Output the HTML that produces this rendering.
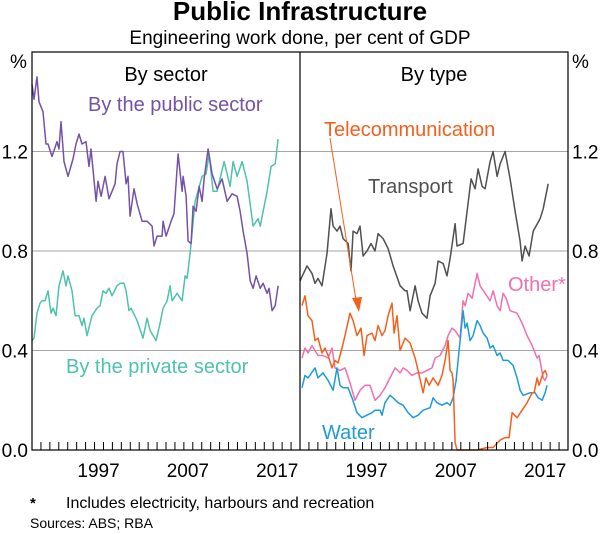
<!DOCTYPE html>
<html><head><meta charset="utf-8">
<style>
html,body{margin:0;padding:0;background:#fff;}
svg{display:block;font-family:"Liberation Sans",Arial,sans-serif;}
</style></head>
<body>
<svg id="chart" width="600" height="534" viewBox="0 0 600 534">
<text x="300" y="20" text-anchor="middle" font-size="26" font-weight="bold">Public Infrastructure</text>
<text x="300" y="44" text-anchor="middle" font-size="19">Engineering work done, per cent of GDP</text>
<g id="grid"></g>
<g id="series"></g>
<rect x="32" y="52" width="536" height="398" fill="none" stroke="#000" stroke-width="1.2"/>
<line x1="300" y1="52" x2="300" y2="450" stroke="#000" stroke-width="1.2"/>
<g id="axes"></g>
<text x="10" y="68" font-size="19">%</text>
<text x="572" y="68" font-size="19">%</text>
<text x="166" y="81" text-anchor="middle" font-size="20">By sector</text>
<text x="434" y="81" text-anchor="middle" font-size="20">By type</text>
<text x="88" y="111" font-size="20" fill="#7452a8">By the public sector</text>
<text x="66" y="373" font-size="20" fill="#4ec2ae">By the private sector</text>
<text x="324" y="136" font-size="20" fill="#f4601c">Telecommunication</text>
<text x="368" y="193" font-size="20" fill="#505050">Transport</text>
<text x="508" y="291" font-size="20" fill="#f070b0">Other*</text>
<text x="322" y="439" font-size="20" fill="#1e9bd7">Water</text>
<g>
<line x1="330" y1="138" x2="356" y2="300" stroke="#f4601c" stroke-width="1"/>
<polygon points="352,298 362,297 359,312" fill="#f4601c"/>
</g>
<text x="30" y="508" font-size="15" font-weight="bold">*</text>
<text x="66" y="508" font-size="16">Includes electricity, harbours and recreation</text>
<text x="30" y="528" font-size="14">Sources: ABS; RBA</text>
</svg>
<script>
const yTicks = [0.0, 0.4, 0.8, 1.2];
const yTickLabels = ["0.0", "0.4", "0.8", "1.2"];
const xTickLabels = ["1997", "2007", "2017"];
const xTickYears = [1997, 2007, 2017];

const publicDates = [1990.00,1990.22,1990.56,1990.78,1991.23,1991.57,1991.79,1992.24,1992.80,1993.02,1993.25,1993.58,1994.03,1994.59,1994.93,1995.26,1995.60,1996.05,1996.38,1996.61,1997.17,1997.39,1997.73,1998.18,1998.62,1999.30,1999.52,1999.86,2000.19,2000.53,2000.75,2000.98,2001.42,2001.76,2002.32,2002.88,2003.44,2003.66,2004.00,2004.56,2004.67,2005.01,2005.57,2005.90,2006.35,2006.80,2006.91,2007.25,2007.47,2007.81,2008.03,2008.37,2008.70,2009.04,2009.26,2009.71,2010.16,2010.72,2011.28,2011.84,2012.40,2012.96,2013.30,2013.63,2014.08,2014.42,2014.75,2015.09,2015.54,2015.87,2016.32,2016.54,2016.88,2017.22,2017.55];
const publicValues = [1.47,1.41,1.50,1.40,1.36,1.23,1.23,1.18,1.24,1.21,1.32,1.16,1.10,1.17,1.23,1.27,1.23,1.24,1.14,1.21,1.00,1.08,1.02,1.10,1.01,1.07,1.15,1.20,1.20,1.07,1.10,0.94,1.05,0.99,0.92,0.92,0.90,0.82,0.86,0.86,0.92,0.86,0.92,0.95,1.19,1.04,1.10,1.02,0.84,0.83,0.98,0.96,1.06,1.00,1.09,1.21,1.11,1.05,1.09,1.00,1.03,1.02,0.96,0.88,0.79,0.68,0.65,0.70,0.65,0.67,0.63,0.65,0.56,0.58,0.66];

const privateDates = [1990.00,1990.22,1990.56,1990.90,1991.12,1991.46,1991.79,1992.13,1992.35,1992.69,1993.02,1993.47,1993.81,1994.03,1994.48,1994.82,1995.26,1995.60,1995.82,1996.16,1996.72,1997.28,1997.62,1997.95,1998.29,1998.62,1998.96,1999.52,1999.86,2000.30,2000.53,2000.86,2001.09,2001.76,2002.43,2002.88,2003.22,2003.89,2004.34,2004.67,2005.12,2005.46,2005.68,2006.24,2006.80,2007.14,2007.36,2007.70,2008.26,2009.04,2009.49,2009.82,2010.27,2010.72,2011.50,2012.18,2012.51,2012.96,2013.52,2014.08,2014.75,2015.31,2015.54,2016.32,2016.77,2017.22,2017.55];
const privateValues = [0.44,0.45,0.55,0.59,0.60,0.60,0.64,0.55,0.57,0.54,0.66,0.72,0.66,0.70,0.64,0.54,0.54,0.50,0.53,0.46,0.54,0.57,0.58,0.64,0.63,0.65,0.62,0.66,0.67,0.67,0.64,0.56,0.57,0.52,0.45,0.53,0.48,0.44,0.51,0.57,0.60,0.66,0.60,0.63,0.60,0.70,0.69,0.79,1.00,1.10,1.11,1.19,1.04,1.04,1.16,1.06,1.16,1.10,1.16,1.08,0.90,0.93,0.90,1.04,1.14,1.15,1.25];

const transportDates = [1990.00,1990.78,1991.34,1991.68,1992.02,1992.46,1993.02,1993.47,1993.70,1994.14,1994.48,1994.82,1995.38,1995.71,1995.94,1996.38,1996.72,1997.06,1997.50,1997.95,1998.40,1998.74,1999.30,1999.86,2000.42,2001.20,2001.76,2001.98,2002.32,2002.88,2003.22,2003.66,2004.22,2004.56,2005.12,2005.46,2006.02,2006.46,2006.80,2007.36,2007.58,2008.26,2008.70,2009.15,2009.60,2009.94,2010.38,2010.72,2011.28,2011.62,2012.06,2012.40,2012.96,2013.52,2014.08,2014.64,2014.86,2015.20,2015.65,2016.10,2016.88,2017.22,2017.78];
const transportValues = [0.68,0.74,0.71,0.67,0.69,0.66,0.79,0.97,0.90,0.88,0.90,0.85,0.83,0.72,0.88,0.87,0.90,0.78,0.80,0.83,0.80,0.87,0.85,0.81,0.74,0.66,0.64,0.64,0.56,0.66,0.60,0.55,0.53,0.62,0.67,0.76,0.75,0.70,0.77,0.91,0.82,0.83,0.96,1.09,1.05,1.13,1.06,1.05,1.16,1.20,1.10,1.15,1.20,1.09,0.96,0.84,0.76,0.82,0.78,0.88,0.93,0.97,1.07];

const telecomDates = [1990.22,1990.56,1990.90,1991.34,1991.68,1992.02,1992.46,1992.80,1993.14,1993.58,1993.92,1994.26,1994.70,1995.04,1995.60,1995.94,1996.38,1996.83,1997.17,1997.50,1998.06,1998.40,1998.74,1999.18,1999.52,1999.86,2000.30,2000.53,2000.86,2001.20,2001.76,2002.32,2002.88,2003.22,2003.78,2004.11,2004.45,2004.90,2005.46,2005.90,2006.24,2006.58,2006.80,2007.02,2007.14,2007.36,2007.58,2009.82,2010.94,2011.62,2012.40,2012.96,2013.41,2013.74,2014.30,2014.86,2015.42,2015.98,2016.21,2016.54,2016.77,2017.22,2017.44,2017.66];
const telecomValues = [0.58,0.62,0.54,0.52,0.44,0.45,0.39,0.41,0.38,0.33,0.36,0.35,0.41,0.46,0.55,0.52,0.46,0.49,0.38,0.46,0.47,0.44,0.50,0.46,0.48,0.54,0.59,0.47,0.54,0.40,0.45,0.43,0.37,0.32,0.23,0.29,0.26,0.29,0.26,0.30,0.36,0.44,0.32,0.31,0.28,0.03,0.00,0.00,0.01,0.01,0.04,0.05,0.05,0.15,0.13,0.16,0.19,0.23,0.23,0.29,0.26,0.31,0.32,0.30];

const otherDates = [1990.22,1990.56,1990.90,1991.34,1991.68,1992.02,1992.58,1993.14,1993.58,1993.92,1994.48,1995.04,1995.60,1996.16,1996.72,1997.28,1997.84,1998.40,1998.96,1999.52,2000.08,2000.64,2001.20,2001.54,2001.98,2002.54,2003.10,2003.66,2004.22,2004.78,2005.12,2005.68,2006.24,2006.58,2007.02,2007.36,2007.92,2008.26,2008.48,2008.82,2009.26,2009.60,2009.82,2010.16,2010.72,2011.28,2011.62,2012.06,2012.40,2012.74,2013.07,2013.52,2014.30,2014.86,2015.42,2015.98,2016.54,2016.77,2017.22,2017.44,2017.66];
const otherValues = [0.37,0.41,0.39,0.42,0.40,0.38,0.38,0.37,0.41,0.33,0.32,0.33,0.27,0.20,0.24,0.26,0.26,0.20,0.22,0.25,0.29,0.33,0.31,0.33,0.32,0.30,0.31,0.31,0.32,0.33,0.37,0.38,0.42,0.46,0.49,0.48,0.45,0.60,0.58,0.63,0.61,0.67,0.71,0.66,0.63,0.60,0.64,0.58,0.56,0.63,0.61,0.56,0.55,0.51,0.46,0.42,0.37,0.38,0.29,0.28,0.30];

const waterDates = [1990.22,1990.56,1990.90,1991.68,1992.02,1992.58,1993.14,1993.70,1994.14,1994.48,1994.82,1995.38,1995.82,1996.38,1996.94,1997.50,1998.06,1998.40,1998.96,1999.18,1999.52,2000.08,2000.42,2000.98,2001.54,2002.10,2002.66,2003.22,2003.78,2004.56,2004.90,2005.34,2005.90,2006.46,2006.80,2007.14,2007.47,2007.92,2008.26,2008.48,2008.70,2009.04,2009.38,2009.82,2010.16,2010.50,2010.94,2011.28,2011.62,2012.06,2012.40,2012.74,2013.30,2013.86,2014.30,2014.64,2014.98,2015.76,2016.32,2016.66,2017.10,2017.44,2017.66];
const waterValues = [0.25,0.30,0.29,0.33,0.29,0.31,0.28,0.24,0.33,0.26,0.25,0.25,0.21,0.15,0.13,0.14,0.15,0.16,0.16,0.14,0.19,0.22,0.21,0.19,0.18,0.15,0.13,0.14,0.16,0.17,0.21,0.19,0.18,0.19,0.18,0.21,0.28,0.44,0.56,0.49,0.51,0.44,0.46,0.52,0.50,0.47,0.45,0.41,0.42,0.38,0.39,0.36,0.36,0.34,0.29,0.24,0.22,0.23,0.23,0.21,0.20,0.23,0.26];

const NS = "http://www.w3.org/2000/svg";
const Y0 = 450, Y1 = 52, VMAX = 1.6;
const YEAR0 = 1990, YEAR1 = 2020;
function yScale(v){ return Y0 - (v / VMAX) * (Y0 - Y1); }
function xScaleLeft(t){ return 32 + (t - YEAR0) / (YEAR1 - YEAR0) * 268; }
function xScaleRight(t){ return 300 + (t - YEAR0) / (YEAR1 - YEAR0) * 268; }
function mk(tag, attrs, parent){
  const el = document.createElementNS(NS, tag);
  for (const k in attrs) el.setAttribute(k, attrs[k]);
  parent.appendChild(el);
  return el;
}
const grid = document.getElementById('grid');
const axes = document.getElementById('axes');
const series = document.getElementById('series');

yTicks.forEach((v, i) => {
  if (v > 0) {
    const gl = mk('line', {x1:32, x2:568, y1:yScale(v), y2:yScale(v), stroke:'#a6a6a6', 'stroke-width':1}, grid);
    
    
  }
  const tl = mk('text', {x:28, y:yScale(v)+7, 'text-anchor':'end', 'font-size':19}, axes);
  tl.textContent = yTickLabels[i];
  
  
  const tr = mk('text', {x:572, y:yScale(v)+7, 'text-anchor':'start', 'font-size':19}, axes);
  tr.textContent = yTickLabels[i];
  
  
});

[xScaleLeft, xScaleRight].forEach((xs, p) => {
  for (let yr = YEAR0 + 1; yr < YEAR1; yr++) {
    const tk = mk('line', {x1:xs(yr), x2:xs(yr), y1:450, y2:442, stroke:'#000', 'stroke-width':1}, axes);
    
    
  }
  xTickYears.forEach((yr, i) => {
    const t = mk('text', {x:xs(yr + 0.45), y:477, 'text-anchor':'middle', 'font-size':19}, axes);
    t.textContent = xTickLabels[i];
    
    
  });
});

function drawLine(dates, vals, xs, color, name){
  const d = dates.map((t, i) => (i ? 'L' : 'M') + xs(t).toFixed(1) + ' ' + yScale(vals[i]).toFixed(1)).join(' ');
  const p = mk('path', {d:d, fill:'none', stroke:color, 'stroke-width':1.5, 'stroke-linejoin':'round'}, series);
  
  
}
drawLine(privateDates, privateValues, xScaleLeft, '#4ec2ae', 'line-private-sector');
drawLine(publicDates, publicValues, xScaleLeft, '#7452a8', 'line-public-sector');
drawLine(transportDates, transportValues, xScaleRight, '#505050', 'line-transport');
drawLine(otherDates, otherValues, xScaleRight, '#f070b0', 'line-other');
drawLine(waterDates, waterValues, xScaleRight, '#1e9bd7', 'line-water');
drawLine(telecomDates, telecomValues, xScaleRight, '#f4601c', 'line-telecommunication');
</script>
</body></html>
